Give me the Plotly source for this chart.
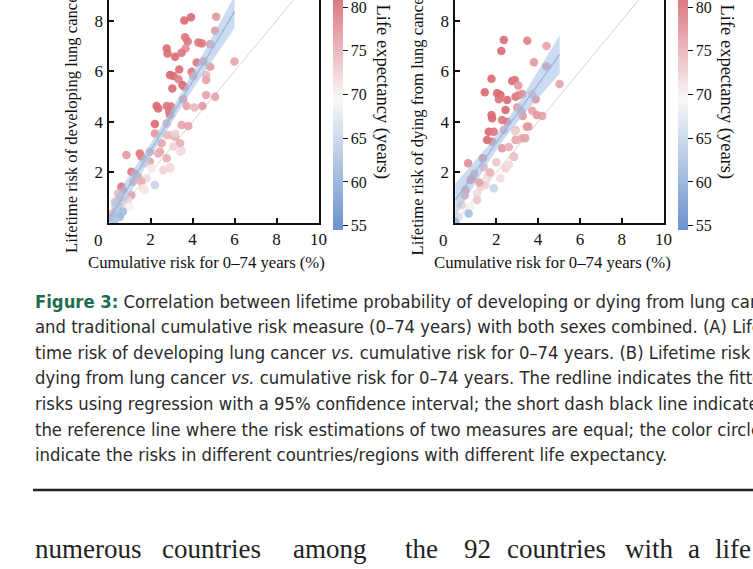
import numpy as np
import plotly.graph_objects as go

# ---------------- data ----------------
# Panel A: lifetime risk of developing lung cancer vs cumulative risk 0-74
a_cum = [3.61, 3.93, 5.13, 5.08, 3.65, 3.77, 4.28, 4.44, 4.84, 2.77, 2.81, 3.67, 3.48, 3.17, 4.20,
         4.52, 4.84, 6.00, 3.37, 3.96, 2.93, 3.09, 3.33, 4.04, 4.65, 4.65, 3.52, 3.61, 3.04, 4.65,
         5.08, 3.56, 2.29, 2.37, 2.77, 2.98, 3.72, 4.09, 4.47, 2.89, 2.93, 2.21, 3.48, 3.80, 2.77,
         2.21, 2.93, 3.17, 3.41, 3.48, 3.09, 2.53, 2.45, 2.77, 2.61, 2.93, 1.49, 1.57, 0.85, 1.97,
         1.73, 2.05, 1.09, 1.25, 1.41, 1.81, 2.21, 1.57, 1.17, 0.61, 0.69, 1.65, 1.73, 1.09, 0.54,
         0.93, 0.45, 0.77, 1.01, 0.37, 0.22, 0.69, 0.54, 0.13, 0.30, 3.18, 2.78, 3.42, 2.94, 1.97,
         2.37, 0.45, 0.30]
a_life = [8.00, 8.13, 8.15, 7.60, 7.34, 7.17, 7.13, 7.10, 7.07, 6.90, 6.70, 6.90, 6.73, 6.57, 6.34,
          6.38, 6.18, 6.38, 6.07, 5.98, 5.85, 5.81, 5.68, 5.81, 5.85, 5.65, 5.45, 5.39, 5.32, 5.06,
          4.99, 4.89, 4.62, 4.53, 4.62, 4.60, 4.62, 4.57, 4.62, 4.40, 4.27, 3.91, 3.87, 3.83, 3.94,
          3.54, 3.48, 3.41, 3.15, 2.86, 3.02, 3.15, 2.82, 2.56, 2.09, 2.16, 2.75, 2.62, 2.69, 2.42,
          2.36, 2.16, 2.03, 1.96, 1.83, 1.77, 1.50, 1.63, 1.63, 1.43, 1.30, 1.37, 1.30, 1.10, 0.98,
          0.91, 0.71, 0.64, 0.64, 0.51, 0.38, 0.45, 0.25, 0.19, 0.12, 3.54, 3.48, 2.82, 2.22, 2.82,
          2.75, 1.17, 0.84]
a_le = [82, 82, 78, 78, 81, 81, 81, 81, 78, 82, 82, 79, 81, 82, 81,
        79, 78, 77, 82, 81, 82, 82, 80, 78, 75, 77, 82, 81, 82, 77,
        77, 79, 82, 82, 81, 81, 77, 75, 78, 81, 81, 82, 77, 77, 77,
        78, 74, 76, 76, 73, 73, 77, 77, 76, 73, 73, 81, 80, 78, 77,
        73, 71, 81, 80, 77, 72, 64, 76, 77, 81, 80, 72, 71, 77, 77,
        73, 76, 71, 70, 66, 76, 61, 60, 60, 62, 73, 75, 72, 72, 77,
        76, 75, 74]

# Panel B: lifetime risk of dying from lung cancer vs cumulative risk 0-74
b_cum = [2.36, 3.48, 4.40, 2.24, 3.80, 4.39, 5.03, 1.77, 1.45, 2.76, 2.89, 3.05, 2.04, 2.20, 2.12,
         2.52, 2.92, 3.08, 3.24, 3.72, 3.88, 2.44, 3.00, 3.72, 1.77, 3.27, 4.20, 1.80, 2.28, 2.52,
         1.64, 1.88, 1.56, 1.80, 2.36, 2.92, 3.53, 2.92, 3.24, 2.28, 2.84, 2.44, 2.20, 1.35, 0.65,
         0.84, 0.76, 1.56, 1.48, 1.88, 0.52, 0.49, 1.08, 1.24, 0.36, 0.76, 0.68, 0.20, 0.04, 1.08,
         3.94, 3.46, 3.22, 2.98, 3.38, 2.82, 2.90, 2.60, 1.40, 2.00, 1.70, 2.60, 0.95, 1.20]
b_life = [7.23, 7.20, 7.00, 6.80, 6.35, 6.20, 5.49, 5.70, 5.17, 5.61, 5.65, 5.43, 5.13, 5.06, 4.89,
          4.86, 4.99, 5.06, 5.10, 5.10, 4.89, 4.47, 4.57, 4.44, 4.27, 4.23, 4.23, 4.14, 4.07, 4.00,
          3.61, 3.61, 3.28, 3.21, 3.68, 3.68, 3.81, 3.28, 3.35, 2.95, 2.62, 2.16, 1.77, 2.56, 2.36,
          1.77, 1.70, 1.83, 1.50, 1.37, 1.30, 1.10, 1.17, 1.43, 0.71, 0.64, 0.38, 0.25, 0.05, 0.91,
          4.27, 3.80, 4.40, 3.28, 3.35, 2.62, 3.61, 3.00, 2.20, 2.40, 2.00, 2.30, 1.95, 1.60]
b_le = [82, 80, 77, 82, 78, 79, 77, 82, 82, 82, 81, 78, 82, 82, 81,
        82, 81, 80, 79, 75, 79, 82, 78, 77, 82, 78, 77, 82, 81, 81,
        82, 81, 82, 81, 77, 75, 78, 77, 77, 78, 77, 73, 72, 81, 79,
        81, 80, 72, 73, 64, 80, 77, 72, 73, 73, 70, 61, 66, 60, 74,
        78, 78, 78, 76, 77, 74, 73, 76, 75, 74, 76, 72, 78, 77]

x_ticks = [2, 4, 6, 8, 10]
y_ticks = [2, 4, 6, 8]
cb_ticks = [55, 60, 65, 70, 75, 80]

caption_lines = [
    "<b><span style='color:#1d6e4f'>Figure 3:</span></b> Correlation between lifetime probability of developing or dying from lung cancer",
    "and traditional cumulative risk measure (0–74 years) with both sexes combined. (A) Life-",
    "time risk of developing lung cancer <i>vs.</i> cumulative risk for 0–74 years. (B) Lifetime risk of",
    "dying from lung cancer <i>vs.</i> cumulative risk for 0–74 years. The redline indicates the fitted",
    "risks using regression with a 95% confidence interval; the short dash black line indicates",
    "the reference line where the risk estimations of two measures are equal; the color circles",
    "indicate the risks in different countries/regions with different life expectancy.",
]
body_words = ["numerous", "countries", "among", "the", "92", "countries", "with", "a", "life"]
body_word_x = [33, 160, 291, 403, 462, 505, 623, 686, 713]

# ---------------- figure ----------------
W, H = 753, 569
SERIF = "Liberation Serif, Times New Roman, serif"
NARROW = "Liberation Sans Narrow, Arial Narrow, DejaVu Sans Condensed, sans-serif"
BLUE, WHITE, RED = (106, 147, 207), (248, 248, 248), (212, 80, 92)
CMIN, CMAX, CMID = 54.5, 84.5, 69.5
CB_TOP = 80.8   # value visible at the top edge of the colour bar


def mix(c1, c2, f):
    return "rgb(%d,%d,%d)" % tuple(round(a + (b - a) * f) for a, b in zip(c1, c2))


cscale = [[0.0, mix(BLUE, BLUE, 0)], [0.5, mix(WHITE, WHITE, 0)], [1.0, mix(RED, RED, 0)]]
# the same scale cut at the value visible at the top of the colour bar
mid_f = (CMID - CMIN) / (CB_TOP - CMIN)
top_col = mix(WHITE, RED, (CB_TOP - CMID) / (CMAX - CMID))
cscale_bar = [[0.0, mix(BLUE, BLUE, 0)], [mid_f, mix(WHITE, WHITE, 0)], [1.0, top_col]]


def px(xp):
    return xp / W


def py(yp):
    return 1 - yp / H


fig = go.Figure()


def fit_band(x, y):
    x = np.asarray(x, float)
    y = np.asarray(y, float)
    n = len(x)
    b, a = np.polyfit(x, y, 1)
    xs = np.linspace(x.min(), x.max(), 60)
    yh = a + b * xs
    res = y - (a + b * x)
    s = np.sqrt(np.sum(res ** 2) / (n - 2))
    sxx = np.sum((x - x.mean()) ** 2)
    se = s * np.sqrt(1 / n + (xs - x.mean()) ** 2 / sxx)
    t = 1.98
    return xs, yh, yh - t * se, yh + t * se


panels = [
    (a_cum, a_life, a_le, "x", "y", 333),
    (b_cum, b_life, b_le, "x2", "y2", 678),
]
for cum, life, le, xa, ya, cbx in panels:
    # reference line y = x
    fig.add_trace(go.Scatter(x=[0, 10], y=[0, 10], mode="lines", xaxis=xa, yaxis=ya,
                             line=dict(color="#d4d4d4", width=1), showlegend=False, hoverinfo="skip"))
    fig.add_trace(go.Scatter(
        x=cum, y=life, mode="markers", xaxis=xa, yaxis=ya, showlegend=False,
        marker=dict(size=8.5, color=le, colorscale=cscale, cmin=CMIN, cmax=CMAX,
                    opacity=0.92, line=dict(width=0), showscale=False)))
    # colour bar (invisible carrier trace)
    fig.add_trace(go.Scatter(
        x=[None], y=[None], mode="markers", xaxis=xa, yaxis=ya, showlegend=False,
        hoverinfo="skip",
        marker=dict(color=[CMID], colorscale=cscale_bar, cmin=CMIN, cmax=CB_TOP, showscale=True,
                    colorbar=dict(x=px(cbx), xanchor="left", y=py(230), yanchor="bottom",
                                  len=230 / H, lenmode="fraction", thickness=10,
                                  xpad=0, ypad=0, outlinewidth=0,
                                  tickvals=cb_ticks, ticks="outside", ticklen=5,
                                  tickwidth=1.3, tickcolor="#111",
                                  ticklabeloverflow="allow",
                                  tickfont=dict(family=SERIF, size=16, color="#111")))))
    xs, yh, lo, hi = fit_band(cum, life)
    fig.add_trace(go.Scatter(x=np.concatenate([xs, xs[::-1]]), y=np.concatenate([hi, lo[::-1]]),
                             mode="lines", fill="toself", fillcolor="rgba(165,195,230,0.58)",
                             line=dict(width=0), xaxis=xa, yaxis=ya, showlegend=False,
                             hoverinfo="skip"))
    fig.add_trace(go.Scatter(x=xs, y=yh, mode="lines", xaxis=xa, yaxis=ya,
                             line=dict(color="rgba(150,182,225,0.9)", width=1.5),
                             showlegend=False, hoverinfo="skip"))

axis_common = dict(showgrid=False, zeroline=False, showline=True, linecolor="#111",
                   linewidth=2, ticks="inside", ticklen=5, tickwidth=1.5, tickcolor="#111",
                   tickfont=dict(family=SERIF, size=17, color="#111"))

fig.update_layout(
    width=W, height=H, margin=dict(l=0, r=0, t=0, b=0, autoexpand=False),
    paper_bgcolor="white", plot_bgcolor="white",
    xaxis=dict(domain=[px(108.5), px(318.5)], range=[0, 10], tickvals=x_ticks, anchor="y",
               mirror=False, **axis_common),
    yaxis=dict(domain=[py(223), 1], range=[0, 223 / 25.3], tickvals=y_ticks, anchor="x",
               mirror=True, **axis_common),
    xaxis2=dict(domain=[px(454.5), px(663.5)], range=[0, 10], tickvals=x_ticks, anchor="y2",
                mirror=False, **axis_common),
    yaxis2=dict(domain=[py(223), 1], range=[0, 223 / 25.3], tickvals=y_ticks, anchor="x2",
                mirror=True, **axis_common),
    showlegend=False,
)

ann = []
# origin "0" labels
for x0 in (98, 443):
    ann.append(dict(x=px(x0), y=py(240), xref="paper", yref="paper", text="0", showarrow=False,
                    xanchor="center", yanchor="middle",
                    font=dict(family=SERIF, size=17, color="#111")))
# x-axis titles
for xc in (207, 552):
    ann.append(dict(x=px(xc), y=py(262), xref="paper", yref="paper",
                    text="Cumulative risk for 0–74 years (%)", showarrow=False,
                    xanchor="center", yanchor="middle",
                    font=dict(family=SERIF, size=16.7, color="#111")))
# y-axis titles
for xc, yb, t in ((71, 255, "Lifetime risk of developing lung cancer (%)"),
                  (417, 257, "Lifetime risk of dying from lung cancer (%)")):
    ann.append(dict(x=px(xc), y=py(yb), xref="paper", yref="paper", text=t, showarrow=False,
                    textangle=-90, xanchor="center", yanchor="bottom",
                    font=dict(family=SERIF, size=16.6, color="#111")))
# colorbar titles
for xc in (382, 726):
    ann.append(dict(x=px(xc), y=py(2), xref="paper", yref="paper", text="Life expectancy (years)",
                    showarrow=False, textangle=90, xanchor="center", yanchor="top",
                    font=dict(family=SERIF, size=18.5, color="#111")))
# caption
for i, line in enumerate(caption_lines):
    ann.append(dict(x=px(33), y=py(301 + i * 25.6), xref="paper", yref="paper", text=line,
                    showarrow=False, xanchor="left", yanchor="middle", align="left",
                    font=dict(family=NARROW, size=18.3, color="#2a2a2a")))
# body text
for w, xw in zip(body_words, body_word_x):
    ann.append(dict(x=px(xw), y=py(549), xref="paper", yref="paper", text=w, showarrow=False,
                    xanchor="left", yanchor="middle",
                    font=dict(family=SERIF, size=27, color="#222")))
fig.update_layout(annotations=ann)

fig.add_shape(type="line", xref="paper", yref="paper", x0=px(33), x1=1.0, y0=py(490), y1=py(490),
              line=dict(color="#222", width=2.5))

fig.write_html("out.html", config={"displayModeBar": False},
               post_script="document.body.style.margin='0';document.body.style.overflow='hidden';")
